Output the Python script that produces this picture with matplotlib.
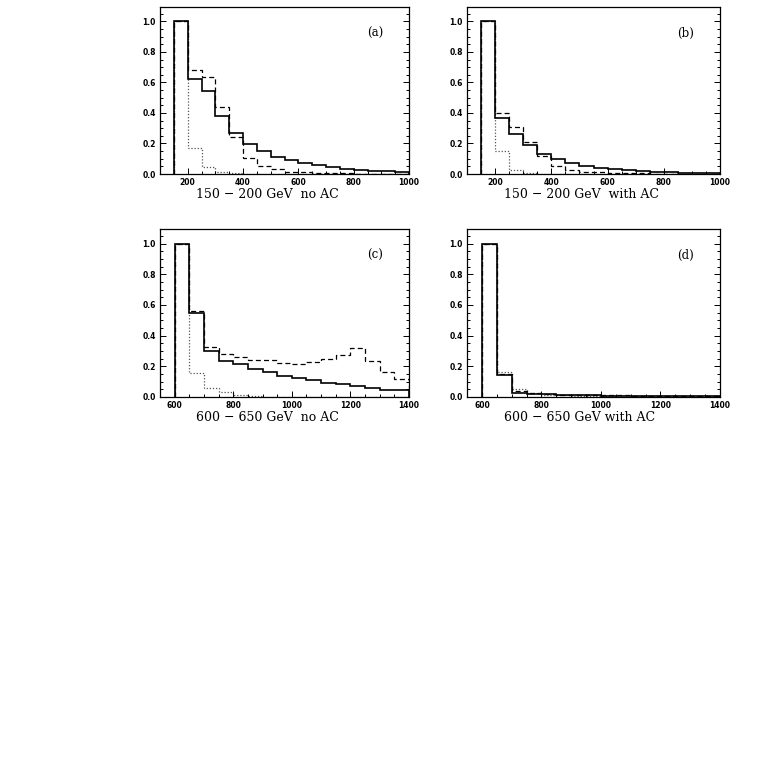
import matplotlib
matplotlib.use("Agg")
import matplotlib.pyplot as plt
import numpy as np
from matplotlib.ticker import MultipleLocator

# bin edges (GeV)
edges_low = np.arange(150, 1001, 50)
edges_high = np.arange(600, 1401, 50)

# (a) 150 - 200 GeV, no AC
a_solid = [1.0, 0.622, 0.543, 0.382, 0.268, 0.198, 0.149, 0.113, 0.091, 0.072,
           0.057, 0.046, 0.036, 0.028, 0.022, 0.017, 0.013]
a_dash = [1.0, 0.684, 0.639, 0.44, 0.24, 0.103, 0.053, 0.03, 0.016, 0.01,
          0.007, 0.005, 0.004, 0.003, 0.002, 0.002, 0.001]
a_dot = [1.0, 0.173, 0.044, 0.012, 0.005, 0.002, 0.001, 0.001, 0.0, 0.0,
         0.0, 0.0, 0.0, 0.0, 0.0, 0.0, 0.0]

# (b) 150 - 200 GeV, with AC
b_solid = [1.0, 0.364, 0.261, 0.187, 0.133, 0.096, 0.074, 0.054, 0.041, 0.033,
           0.024, 0.02, 0.015, 0.011, 0.008, 0.006, 0.005]
b_dash = [1.0, 0.397, 0.307, 0.213, 0.118, 0.054, 0.025, 0.015, 0.01, 0.007,
          0.005, 0.004, 0.003, 0.002, 0.002, 0.001, 0.001]
b_dot = [1.0, 0.148, 0.026, 0.008, 0.003, 0.001, 0.001, 0.0, 0.0, 0.0,
         0.0, 0.0, 0.0, 0.0, 0.0, 0.0, 0.0]

# (c) 600 - 650 GeV, no AC
c_solid = [1.0, 0.547, 0.30, 0.236, 0.212, 0.184, 0.162, 0.138, 0.125, 0.109,
           0.092, 0.083, 0.072, 0.057, 0.048, 0.044]
c_dash = [1.0, 0.562, 0.326, 0.278, 0.263, 0.24, 0.238, 0.223, 0.217, 0.23,
          0.247, 0.276, 0.32, 0.232, 0.162, 0.116]
c_dot = [1.0, 0.155, 0.059, 0.031, 0.012, 0.005, 0.002, 0.001, 0.0, 0.0,
         0.0, 0.0, 0.0, 0.0, 0.0, 0.0]

# (d) 600 - 650 GeV, with AC
d_solid = [1.0, 0.143, 0.029, 0.022, 0.018, 0.014, 0.012, 0.01, 0.009, 0.008,
           0.007, 0.006, 0.006, 0.005, 0.005, 0.004]
d_dash = [1.0, 0.149, 0.037, 0.025, 0.02, 0.016, 0.014, 0.012, 0.011, 0.01,
          0.009, 0.008, 0.008, 0.007, 0.006, 0.005]
d_dot = [1.0, 0.165, 0.055, 0.025, 0.015, 0.01, 0.007, 0.005, 0.004, 0.003,
         0.003, 0.002, 0.002, 0.002, 0.001, 0.001]

captions = ["150 \u2212 200 GeV  no AC", "150 \u2212 200 GeV  with AC",
            "600 \u2212 650 GeV  no AC", "600 \u2212 650 GeV with AC"]
tags = ["(a)", "(b)", "(c)", "(d)"]

fig = plt.figure(figsize=(7.63, 7.63), dpi=100)

W = 763.0
boxes = [(160, 7, 409, 174), (467, 7, 720, 174),
         (160, 229, 409, 397), (467, 229, 720, 397)]

panels = [
    (edges_low, a_solid, a_dash, a_dot, (100, 1000)),
    (edges_low, b_solid, b_dash, b_dot, (100, 1000)),
    (edges_high, c_solid, c_dash, c_dot, (550, 1400)),
    (edges_high, d_solid, d_dash, d_dot, (550, 1400)),
]

for i, (box, (edges, s, d, o, xl)) in enumerate(zip(boxes, panels)):
    x0, y0, x1, y1 = box
    ax = fig.add_axes([x0 / W, 1 - y1 / W, (x1 - x0) / W, (y1 - y0) / W])
    ax.stairs(o, edges, baseline=0, color="#555555", lw=0.9, ls=(0, (1, 1.5)))
    ax.stairs(d, edges, baseline=0, color="black", lw=0.9, ls=(0, (4, 2.5)))
    ax.stairs(s, edges, baseline=0, color="black", lw=1.2)
    ax.set_xlim(*xl)
    ax.set_ylim(0, 1.095)
    ax.xaxis.set_major_locator(MultipleLocator(200))
    ax.xaxis.set_minor_locator(MultipleLocator(50))
    ax.yaxis.set_major_locator(MultipleLocator(0.2))
    ax.yaxis.set_minor_locator(MultipleLocator(0.05))
    ax.yaxis.set_major_formatter(lambda v, p: f"{v:.1f}")
    ax.tick_params(which="both", direction="in", right=True, top=False,
                   labelsize=5.5, pad=3, width=0.7)
    ax.tick_params(which="major", length=4)
    ax.tick_params(which="minor", length=2)
    for lab in ax.get_xticklabels() + ax.get_yticklabels():
        lab.set_fontweight("bold")
    for sp in ax.spines.values():
        sp.set_linewidth(0.9)
    ax.text(0.145, -0.12, captions[i], transform=ax.transAxes, ha="left",
            va="center", fontsize=9, family="DejaVu Serif")
    ax.text(0.83, 0.84, tags[i], transform=ax.transAxes, ha="left",
            va="center", fontsize=8.5, family="DejaVu Serif")

fig.savefig("out.png", dpi=100)
